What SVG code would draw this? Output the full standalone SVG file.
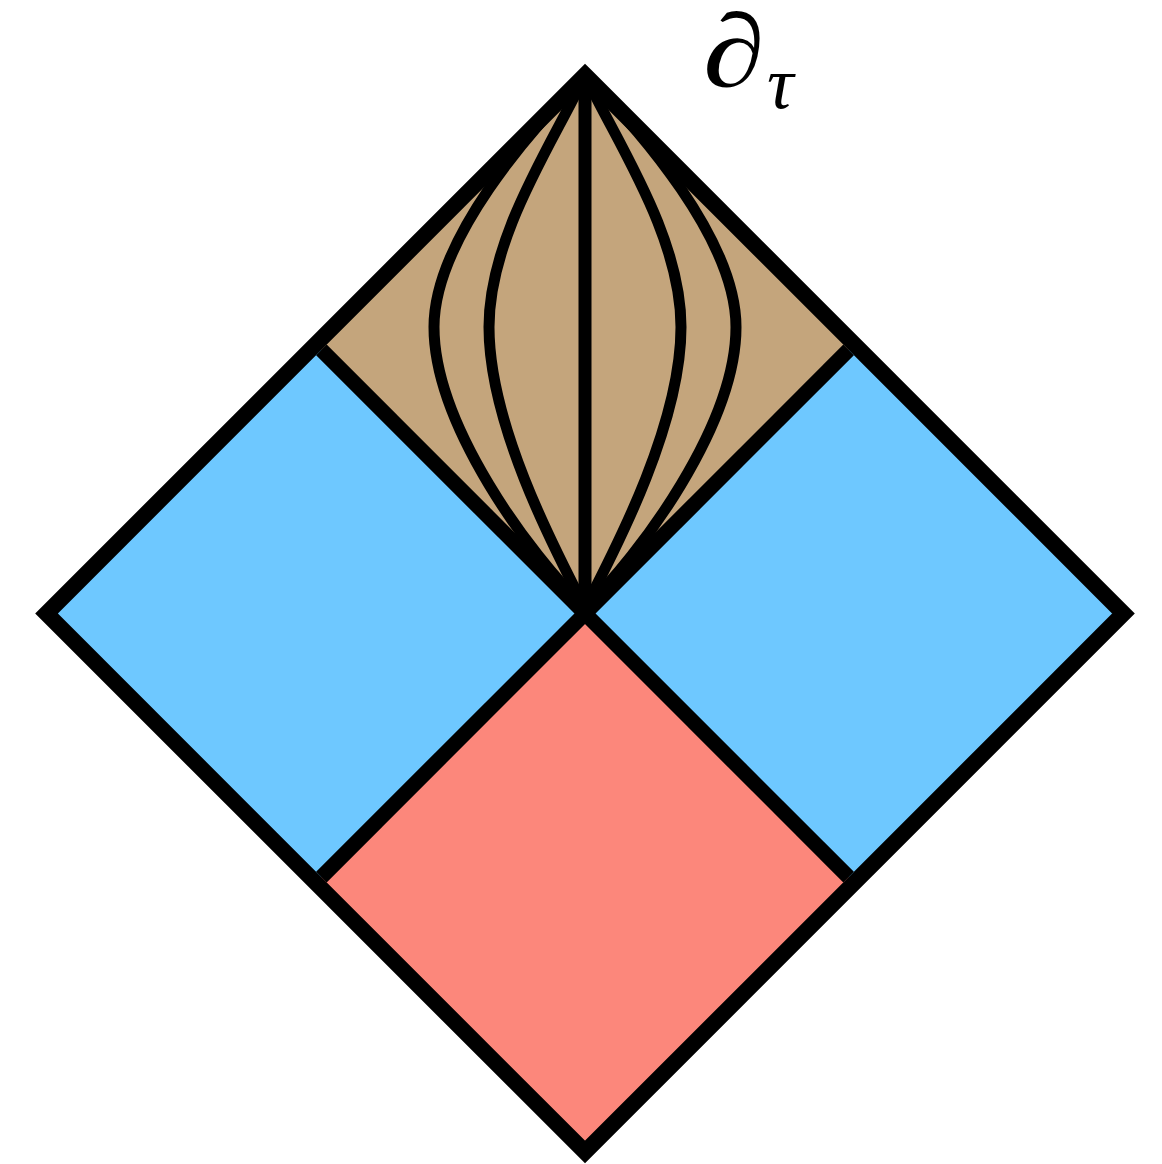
<svg xmlns="http://www.w3.org/2000/svg" width="1162" height="1164" viewBox="0 0 1162 1164">
<style>
.reg{stroke:none}
.curve{fill:none;stroke:#000;stroke-width:11}
.line{fill:none;stroke:#000;stroke-width:15;stroke-linecap:butt}
.label{font-family:"Liberation Serif","Times New Roman",serif;font-style:italic;fill:#000}
</style>
<rect width="1162" height="1164" fill="#fff"/>
<g id="region-bottom"><polygon class="reg" fill="#fc877b" points="585,613.5 315.75,882.75 585,1152 854.25,882.75"/></g>
<g id="region-left"><polygon class="reg" fill="#6ec8ff" points="46.5,613.5 315.75,344.25 585,613.5 315.75,882.75"/></g>
<g id="region-right"><polygon class="reg" fill="#6ec8ff" points="585,613.5 854.25,344.25 1123.5,613.5 854.25,882.75"/></g>
<g id="region-top"><polygon class="reg" fill="#c4a57c" points="585,75 854.25,344.25 585,613.5 315.75,344.25"/></g>
<g id="connectors">
<path class="curve" d="M585,75 C530,130 434,240 434,327 C434,425 530,555 585,608"/>
<path class="curve" d="M585,75 C640,130 736,240 736,327 C736,425 640,555 585,608"/>
<path class="curve" d="M585,75 C555,140 489,235 489,327 C489,425 555,550 585,608"/>
<path class="curve" d="M585,75 C615,140 681,235 681,327 C681,425 615,550 585,608"/>
<line x1="585" y1="75" x2="585" y2="613" stroke="#000" stroke-width="13"/>
<line class="line" x1="321.4" y1="349.9" x2="848.6" y2="877.1"/>
<line class="line" x1="848.6" y1="349.9" x2="321.4" y2="877.1"/>
<polygon points="585,75 1123.5,613.5 585,1152 46.5,613.5" fill="none" stroke="#000" stroke-width="16" stroke-linejoin="miter"/>
</g>
<g id="label"><text class="label" transform="translate(703,86) scale(1.2,1)" x="0" y="0" font-size="104">∂</text><text class="label" x="767" y="108" font-size="74">τ</text></g>
</svg>
